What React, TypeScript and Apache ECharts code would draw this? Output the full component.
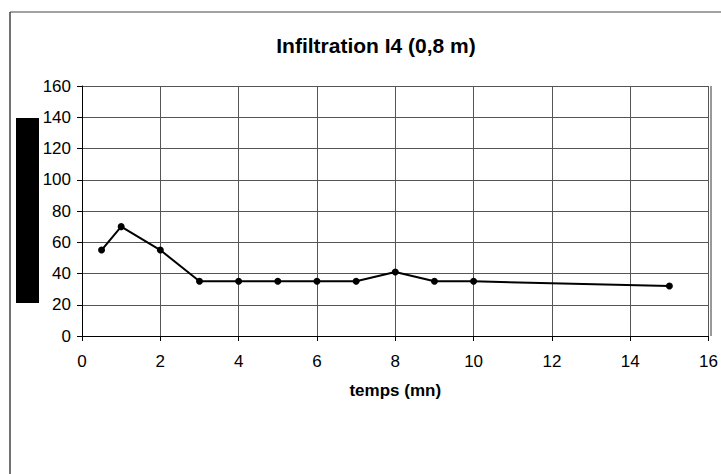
import React, { useEffect, useRef } from "react";
import * as echarts from "echarts";

const titleText = "Infiltration I4 (0,8 m)";
const xAxisName = "temps (mn)";
const timeValues = [0.5, 1, 2, 3, 4, 5, 6, 7, 8, 9, 10, 15];
const infiltrationValues = [55, 70, 55, 35, 35, 35, 35, 35, 41, 35, 35, 32];

export default function App() {
  const ref = useRef<HTMLDivElement>(null);
  useEffect(() => {
    if (!ref.current) return;
    const chart = echarts.init(ref.current, null, { renderer: "svg" });
    const font = "Arial, 'Liberation Sans', Helvetica, sans-serif";
    chart.setOption({
      animation: false,
      backgroundColor: "#fff",
      title: {
        text: titleText,
        left: 371,
        top: 30,
        textAlign: "center",
        textStyle: { fontFamily: font, fontWeight: "bold", fontSize: 21, color: "#000" },
      },
      grid: { left: 82, top: 86, width: 629, height: 250, containLabel: false },
      xAxis: {
        type: "value",
        min: 0,
        max: 16,
        interval: 2,
        name: xAxisName,
        nameLocation: "middle",
        nameGap: 46,
        nameTextStyle: { fontFamily: font, fontWeight: "bold", fontSize: 17, color: "#000" },
        axisLine: { show: true, onZero: false, lineStyle: { color: "#000", width: 1 } },
        axisTick: { show: true, length: 5, lineStyle: { color: "#000" } },
        axisLabel: { fontFamily: font, fontSize: 17, color: "#000", margin: 17 },
        splitLine: { show: true, lineStyle: { color: "#555", width: 1 } },
      },
      yAxis: {
        type: "value",
        min: 0,
        max: 160,
        interval: 20,
        axisLine: { show: true, lineStyle: { color: "#000", width: 1 } },
        axisTick: { show: true, length: 5, lineStyle: { color: "#000" } },
        axisLabel: { fontFamily: font, fontSize: 17, color: "#000", margin: 11 },
        splitLine: { show: true, lineStyle: { color: "#555", width: 1 } },
      },
      graphic: [
        { type: "line", shape: { x1: 10, y1: 12, x2: 721, y2: 12 }, style: { stroke: "#444", lineWidth: 1 } },
        { type: "line", shape: { x1: 10, y1: 12, x2: 10, y2: 474 }, style: { stroke: "#444", lineWidth: 1.5 } },
        { type: "rect", shape: { x: 16, y: 118, width: 23, height: 185 }, style: { fill: "#000" } },
        { type: "line", shape: { x1: 711, y1: 86, x2: 711, y2: 336 }, style: { stroke: "#333", lineWidth: 1 } },
      ],
      series: [
        {
          type: "line",
          data: timeValues.map((t, i) => [t, infiltrationValues[i]]),
          symbol: "circle",
          symbolSize: 7,
          lineStyle: { color: "#000", width: 2 },
          itemStyle: { color: "#000" },
        },
      ],
    });
    return () => chart.dispose();
  }, []);
  return <div ref={ref} style={{ width: 721, height: 474, position: "absolute", left: 0, top: 0 }} />;
}
